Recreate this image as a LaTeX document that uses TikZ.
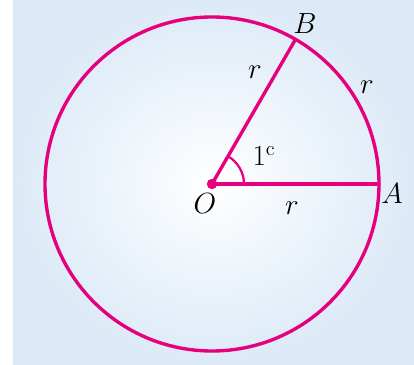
\documentclass[tikz,border=0pt]{standalone}
\usetikzlibrary{positioning}
\definecolor{radpink}{RGB}{230,0,126}
\definecolor{paleblue}{RGB}{220,234,247}

\begin{document}
\begin{tikzpicture}[line join=round, line cap=round,
    font=\fontsize{21}{24}\selectfont,
    radline/.style={radpink, line width=2.4pt},
    lbl/.style={inner sep=0pt}]
  \useasboundingbox (-5.3,-4.525) rectangle (5.05,4.6);

  % background panel
  \shade[inner color=white, outer color=paleblue] (-4.975,-4.525) rectangle (5.05,4.6);

  % points
  \coordinate (O) at (0,0);
  \coordinate (A) at (0:4.175);
  \coordinate (B) at (60:4.175);

  % circle and radii
  \draw[radline] (O) circle (4.175);
  \draw[radline] (O) -- (A);
  \draw[radline] (O) -- (B);
  \draw[radpink, line width=1.6pt] (0.8,0) arc (0:60:0.8);
  \fill[radpink] (O) circle (0.13);

  % labels
  \node[lbl] (labelO) at (-0.175,-0.5) {$O$};
  \node[lbl] (labelA) at (4.5,-0.25) {$A$};
  \node[lbl] (labelB) at (2.325,4.0) {$B$};
  \node[lbl] (rOA) at (2.0,-0.6) {$r$};
  \node[lbl] (rOB) at (1.075,2.8) {$r$};
  \node[lbl] (rAB) at (3.875,2.425) {$r$};
  \node[lbl] (angle) at (1.3,0.7) {$1^{\mathrm{c}}$};
\end{tikzpicture}
\end{document}
